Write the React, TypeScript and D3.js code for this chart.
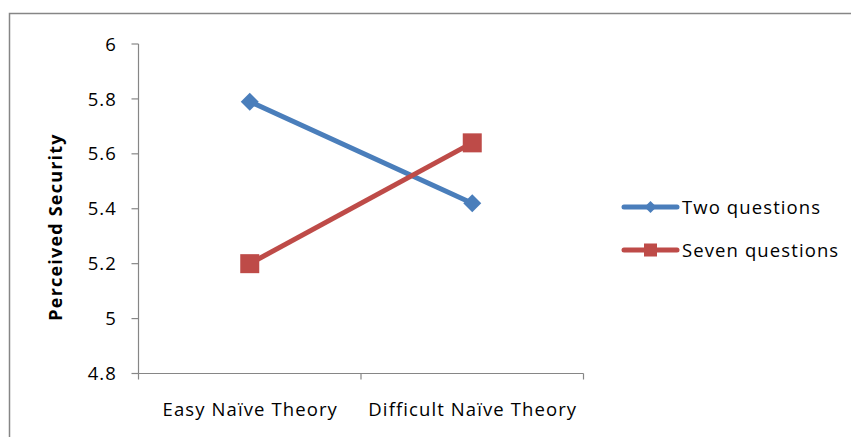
import React from "react";
import * as d3 from "d3";

const categories = ["Easy Naïve Theory", "Difficult Naïve Theory"];
const twoQuestions = [5.79, 5.42];
const sevenQuestions = [5.2, 5.64];
const yTicks = [4.8, 5, 5.2, 5.4, 5.6, 5.8, 6];
const seriesNames = ["Two questions", "Seven questions"];

const W = 851;
const H = 437;
const FONT = "'Open Sans', 'Noto Sans', sans-serif";
const BLUE = "#4A7EBB";
const RED = "#BE4B48";
const AXIS = "#868686";
const FS = 18.5;
const LS = 1.1;

export default function App() {
  const x0 = 138.5;
  const x1 = 583.5;
  const yScale = d3.scaleLinear().domain([4.8, 6]).range([373.5, 44]);
  const xBand = d3.scaleBand().domain(categories).range([x0, x1]);
  const cx = (c: string) => (xBand(c) ?? 0) + xBand.bandwidth() / 2;

  const line = d3
    .line<[number, number]>()
    .x((d) => d[0])
    .y((d) => d[1]);

  const bluePts: [number, number][] = categories.map((c, i) => [cx(c), yScale(twoQuestions[i])]);
  const redPts: [number, number][] = categories.map((c, i) => [cx(c), yScale(sevenQuestions[i])]);

  const diamond = (x: number, y: number, r: number) =>
    `M${x},${y - r}L${x + r},${y}L${x},${y + r}L${x - r},${y}Z`;

  const xTickPos = [x0, x0 + xBand.bandwidth(), x1];

  return (
    <svg width={W} height={H} style={{ position: "absolute", left: 0, top: 0, fontFamily: FONT }}>
      <rect x={0} y={0} width={W} height={H} fill="#fff" />
      {/* outer chart border */}
      <rect x={9.5} y={13.5} width={W} height={H} fill="none" stroke={AXIS} strokeWidth={1.5} />

      {/* y axis */}
      <line x1={x0} x2={x0} y1={yScale(6)} y2={yScale(4.8)} stroke={AXIS} strokeWidth={1.2} />
      {yTicks.map((t) => (
        <g key={t}>
          <line x1={x0 - 7} x2={x0} y1={yScale(t)} y2={yScale(t)} stroke={AXIS} strokeWidth={1.2} />
          <text x={117} y={yScale(t)} dy="0.36em" textAnchor="end" fontSize={FS} letterSpacing={LS} fill="#000">
            {d3.format("~g")(t)}
          </text>
        </g>
      ))}

      {/* x axis */}
      <line x1={x0} x2={x1} y1={yScale(4.8)} y2={yScale(4.8)} stroke={AXIS} strokeWidth={1.2} />
      {xTickPos.map((p, i) => (
        <line key={i} x1={p} x2={p} y1={yScale(4.8)} y2={yScale(4.8) + 6} stroke={AXIS} strokeWidth={1.2} />
      ))}
      {categories.map((c) => (
        <text key={c} x={cx(c) + LS / 2} y={416} textAnchor="middle" fontSize={FS} letterSpacing={LS} fill="#000">
          {c}
        </text>
      ))}

      {/* axis title */}
      <text
        transform={`translate(62,227) rotate(-90)`}
        textAnchor="middle"
        fontSize={18}
        letterSpacing={1.2}
        fontWeight="bold"
        fill="#000"
      >
        Perceived Security
      </text>

      {/* series */}
      <path d={line(bluePts) ?? ""} fill="none" stroke={BLUE} strokeWidth={5} />
      <path d={line(redPts) ?? ""} fill="none" stroke={RED} strokeWidth={5} />
      {bluePts.map((p, i) => (
        <path key={i} d={diamond(p[0], p[1], 9)} fill={BLUE} />
      ))}
      {redPts.map((p, i) => (
        <rect key={i} x={p[0] - 9.5} y={p[1] - 9.5} width={19} height={19} fill={RED} />
      ))}

      {/* legend */}
      {seriesNames.map((name, i) => {
        const ly = 207 + i * 43;
        const col = i === 0 ? BLUE : RED;
        return (
          <g key={name}>
            <line x1={624} x2={677} y1={ly} y2={ly} stroke={col} strokeWidth={5} strokeLinecap="round" />
            {i === 0 ? (
              <path d={diamond(650.5, ly, 6)} fill={col} />
            ) : (
              <rect x={644} y={ly - 6.5} width={13} height={13} fill={col} />
            )}
            <text x={682} y={ly} dy="0.36em" fontSize={FS} letterSpacing={LS} fill="#000">
              {name}
            </text>
          </g>
        );
      })}
    </svg>
  );
}
